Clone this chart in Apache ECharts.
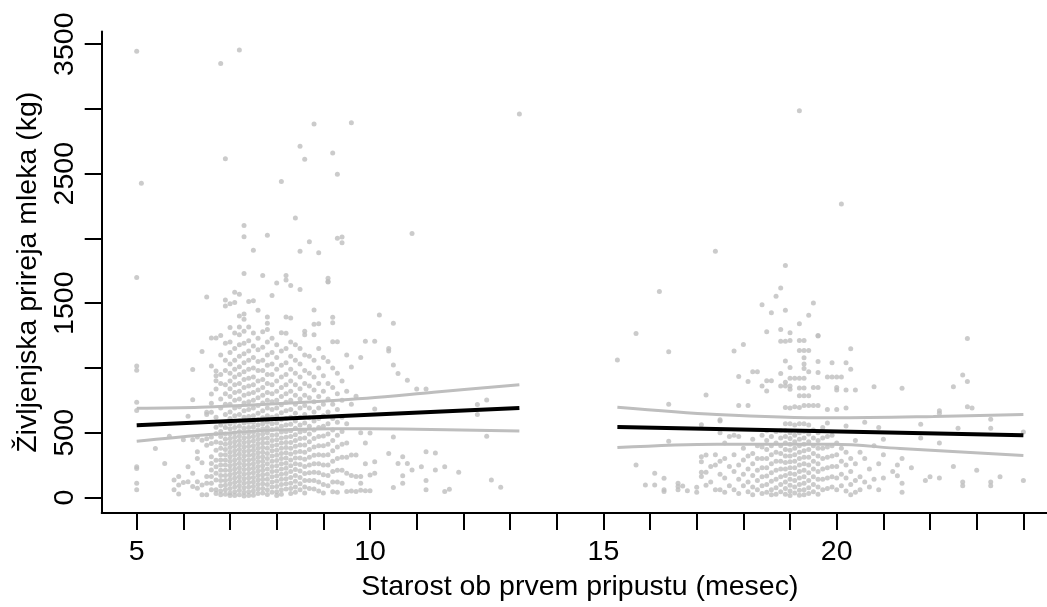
<!DOCTYPE html>
<html>
<head>
<meta charset="utf-8">
<script src="https://cdn.jsdelivr.net/npm/echarts@6/dist/echarts.min.js"></script>
<style>
  html, body { margin: 0; padding: 0; background: #ffffff; }
  #chart { width: 1047px; height: 607px; }
</style>
</head>
<body>
<div id="chart"></div>
<script>
// Age at first insemination (months) vs. lifetime milk yield (kg).
// Each entry: [age in months, [milk yields of animals at that age]]
const groupEarly = [
  [5.0, [3446, 1698, 1016, 982, 735, 671, 237, 224, 110, 59]],
  [5.1, [2427]],
  [5.4, [378]],
  [5.6, [263]],
  [5.7, [472]],
  [5.8, [135, 59]],
  [5.9, [161, 97, 26]],
  [6.0, [446, 115]],
  [6.1, [628, 237, 122]],
  [6.2, [988, 755, 446, 186, 84]],
  [6.3, [467, 352, 301, 122, 71]],
  [6.4, [1128, 442, 268, 97, 20]],
  [6.5, [1547, 658, 640, 454, 403, 161, 110, 20]],
  [6.6, [1232, 1016, 799, 727, 658, 467, 416, 314, 263, 212, 161, 110, 59]],
  [6.7, [1232, 977, 939, 901, 837, 620, 543, 492, 429, 365, 288, 237, 186, 135, 59, 30]],
  [6.8, [3351, 1250, 1100, 950, 880, 760, 690, 560, 510, 470, 420, 380, 330, 290, 250, 210, 170, 130, 90, 50, 20]],
  [6.9, [2616, 1524, 1478, 1190, 1060, 980, 870, 800, 720, 640, 580, 540, 490, 450, 410, 370, 330, 290, 250, 210, 170, 130, 95, 60, 25]],
  [7.0, [1495, 1312, 1200, 1120, 1030, 960, 900, 840, 780, 720, 660, 610, 570, 530, 490, 455, 420, 385, 350, 315, 280, 245, 210, 175, 140, 105, 70, 35, 15]],
  [7.1, [1585, 1506, 1270, 1150, 1060, 990, 930, 870, 810, 750, 690, 630, 580, 540, 500, 465, 430, 395, 360, 325, 290, 255, 220, 185, 150, 115, 80, 45, 15]],
  [7.2, [3456, 1570, 1401, 1317, 1256, 1180, 1090, 1010, 950, 880, 820, 760, 700, 640, 590, 550, 510, 475, 440, 405, 370, 335, 300, 265, 230, 195, 160, 125, 90, 55, 20]],
  [7.3, [2100, 2014, 1730, 1417, 1376, 1284, 1190, 1110, 1040, 970, 910, 850, 790, 730, 670, 620, 575, 535, 495, 460, 425, 390, 355, 320, 285, 250, 215, 180, 145, 110, 75, 40, 12]],
  [7.4, [1514, 1317, 1210, 1130, 1060, 990, 920, 860, 800, 740, 680, 625, 580, 540, 500, 465, 430, 395, 360, 325, 290, 255, 220, 185, 150, 115, 80, 45, 15]],
  [7.5, [1909, 1518, 1269, 1170, 1080, 1000, 930, 870, 810, 750, 690, 630, 580, 545, 505, 470, 435, 400, 365, 330, 295, 260, 225, 190, 155, 120, 85, 50, 18]],
  [7.6, [1445, 1230, 1140, 1050, 980, 900, 830, 770, 710, 650, 600, 560, 520, 485, 450, 415, 380, 345, 310, 275, 240, 205, 170, 135, 100, 65, 30]],
  [7.7, [1713, 1280, 1160, 1060, 980, 910, 850, 790, 730, 670, 615, 570, 530, 490, 455, 420, 385, 350, 315, 280, 245, 210, 175, 140, 105, 70, 35]],
  [7.8, [2024, 1394, 1345, 1296, 1200, 1100, 1020, 950, 880, 810, 750, 690, 630, 580, 540, 500, 460, 420, 380, 340, 300, 260, 220, 180, 140, 100, 60, 22]],
  [7.9, [1560, 1230, 1120, 1030, 950, 870, 800, 740, 680, 620, 570, 525, 480, 440, 400, 360, 320, 280, 240, 200, 160, 120, 80, 40]],
  [8.0, [1656, 1180, 1080, 990, 900, 820, 750, 690, 630, 575, 530, 485, 445, 405, 365, 325, 285, 245, 205, 165, 125, 85, 45, 15]],
  [8.1, [2440, 1271, 1130, 1020, 930, 850, 780, 715, 655, 600, 550, 505, 460, 420, 380, 340, 300, 260, 220, 180, 140, 100, 60, 25]],
  [8.2, [1713, 1679, 1394, 1268, 1150, 1040, 950, 870, 800, 735, 670, 610, 560, 510, 465, 425, 385, 345, 305, 265, 225, 185, 145, 105, 65]],
  [8.3, [1636, 1386, 1200, 1090, 990, 900, 820, 750, 680, 620, 565, 515, 470, 425, 380, 335, 290, 245, 200, 155, 110, 70, 30]],
  [8.4, [2157, 1180, 1060, 960, 870, 790, 720, 650, 590, 535, 485, 440, 395, 350, 305, 260, 215, 170, 125, 80, 40]],
  [8.5, [2711, 1901, 1605, 1150, 1030, 930, 840, 760, 690, 620, 560, 505, 455, 405, 355, 305, 255, 205, 155, 105, 60]],
  [8.6, [2611, 1284, 1256, 1100, 980, 880, 790, 710, 640, 575, 515, 460, 405, 350, 295, 240, 185, 130, 80, 35]],
  [8.7, [1975, 1090, 960, 860, 770, 690, 615, 550, 490, 430, 370, 310, 250, 190, 130, 70]],
  [8.8, [2884, 1447, 1338, 1256, 1060, 930, 830, 740, 660, 590, 520, 455, 390, 325, 260, 195, 130, 65]],
  [8.9, [1889, 1342, 1150, 1000, 880, 780, 690, 610, 540, 470, 400, 330, 260, 190, 120, 50]],
  [9.0, [1080, 940, 820, 720, 630, 550, 475, 400, 325, 250, 175, 100, 35]],
  [9.1, [1692, 1667, 1664, 1050, 880, 760, 660, 570, 490, 410, 330, 250, 170, 90]],
  [9.2, [2659, 1391, 1350, 1202, 1000, 850, 720, 610, 520, 440, 360, 280, 200, 120, 45]],
  [9.3, [2496, 2001, 1202, 960, 800, 680, 580, 480, 390, 300, 210, 120, 40]],
  [9.4, [2011, 1966, 900, 750, 620, 510, 410, 310, 210, 110]],
  [9.5, [1100, 820, 569, 420, 310, 186, 46]],
  [9.6, [2894, 1008, 720, 327, 170, 50]],
  [9.7, [781, 327, 161, 46]],
  [9.8, [1080, 500, 161, 110, 55]],
  [9.9, [1207, 420, 260, 51]],
  [10.0, [497, 173, 51]],
  [10.1, [1207, 684, 275, 186]],
  [10.2, [1409]],
  [10.4, [1150, 1130, 339]],
  [10.5, [1345, 1023, 467, 76]],
  [10.6, [957, 263]],
  [10.7, [314, 168, 110]],
  [10.8, [906, 263]],
  [10.9, [2039, 212]],
  [11.0, [837]],
  [11.1, [237]],
  [11.2, [837, 352, 130, 59]],
  [11.4, [344, 212]],
  [11.6, [237, 46]],
  [11.7, [64]],
  [11.9, [194]],
  [12.3, [717, 640]],
  [12.5, [753, 472]],
  [12.6, [135]],
  [12.8, [79]],
  [13.2, [2961]]
];

const groupLate = [
  [15.3, [1062]],
  [15.7, [1266, 250]],
  [15.9, [97]],
  [16.1, [186, 97]],
  [16.2, [1590]],
  [16.3, [148, 59, 46]],
  [16.4, [1125, 720, 434]],
  [16.6, [110, 84, 59]],
  [16.7, [89]],
  [16.8, [51]],
  [17.0, [79, 40]],
  [17.1, [561, 314, 275, 194, 161]],
  [17.2, [791, 327, 194, 94]],
  [17.3, [240, 120]],
  [17.4, [1901, 330, 250, 60]],
  [17.5, [600, 590, 500, 280, 180, 60]],
  [17.6, [420, 300, 150, 40]],
  [17.7, [470, 240, 90]],
  [17.8, [1131, 480, 330, 200, 60]],
  [17.9, [934, 710, 470, 250, 140, 30]],
  [18.0, [1182, 380, 290, 180, 90]],
  [18.1, [896, 710, 320, 220, 120, 45]],
  [18.2, [970, 450, 340, 260, 170, 80, 20]],
  [18.3, [970, 400, 300, 210, 130, 60]],
  [18.4, [1488, 860, 480, 390, 300, 230, 160, 90, 30]],
  [18.5, [1279, 902, 822, 515, 440, 370, 300, 230, 165, 100, 40]],
  [18.6, [1427, 902, 470, 400, 330, 260, 190, 125, 60, 20]],
  [18.7, [1554, 510, 420, 350, 280, 210, 140, 75, 25]],
  [18.8, [1618, 1296, 1207, 958, 860, 515, 460, 400, 340, 280, 220, 160, 100, 45]],
  [18.9, [1792, 1445, 1207, 1054, 890, 860, 695, 570, 515, 470, 420, 370, 320, 270, 220, 170, 120, 70, 25]],
  [19.0, [1271, 1212, 1003, 920, 860, 835, 690, 570, 500, 455, 410, 365, 320, 275, 230, 185, 140, 95, 50, 15]],
  [19.1, [920, 700, 560, 480, 430, 380, 330, 280, 230, 180, 130, 80, 35]],
  [19.2, [2986, 1342, 1212, 1135, 920, 845, 785, 695, 570, 500, 450, 400, 350, 300, 250, 200, 150, 100, 55, 18]],
  [19.3, [1212, 1135, 1079, 1030, 995, 920, 845, 785, 710, 570, 510, 460, 410, 360, 310, 260, 210, 160, 110, 60, 20]],
  [19.4, [1407, 1135, 970, 785, 710, 560, 490, 430, 370, 310, 250, 190, 130, 75, 30]],
  [19.5, [1501, 850, 710, 520, 460, 400, 340, 280, 220, 160, 100, 45]],
  [19.6, [1250, 1246, 1050, 965, 850, 710, 500, 440, 380, 320, 260, 200, 140, 80, 25]],
  [19.7, [540, 460, 380, 300, 220, 140, 60]],
  [19.8, [930, 680, 575, 470, 390, 310, 230, 150, 70]],
  [19.9, [1040, 930, 480, 400, 320, 240, 160, 80]],
  [20.0, [930, 850, 830, 680, 420, 330, 240, 150, 60]],
  [20.1, [2266, 930, 380, 280, 180, 90]],
  [20.2, [1040, 830, 690, 551, 350, 250, 150, 50]],
  [20.3, [1149, 990, 300, 200, 100, 20]],
  [20.4, [830, 440, 260, 130, 40]],
  [20.5, [350, 160, 60]],
  [20.6, [580, 300, 120]],
  [20.7, [220, 80]],
  [20.8, [855, 400, 140]],
  [20.9, [540, 260, 60]],
  [21.0, [450, 330, 150]],
  [21.2, [200]],
  [21.3, [250, 168]],
  [21.4, [843, 300, 110, 40]],
  [21.6, [230]],
  [21.8, [565, 460]],
  [21.9, [130]],
  [22.0, [160]],
  [22.2, [670, 650, 420, 150]],
  [22.5, [855, 240]],
  [22.6, [534]],
  [22.7, [945, 120, 90]],
  [22.8, [1227, 895, 700]],
  [22.9, [690]],
  [23.0, [210]],
  [23.3, [603, 534, 120, 90]],
  [23.5, [160]],
  [24.0, [505, 130]]
];

// Fitted regression lines and their confidence limits
const fitEarly = [[5.0, 557], [13.2, 690]];
const upperEarly = [[5.0, 689], [6.36, 697], [7.79, 720], [9.93, 766], [11.36, 812], [13.2, 870]];
const lowerEarly = [[5.0, 434], [6.36, 480], [7.79, 518], [9.21, 531], [10.64, 528], [13.2, 513]];
const fitLate = [[15.3, 544], [24.0, 480]];
const upperLate = [[15.3, 697], [17.43, 641], [19.93, 615], [22.07, 625], [24.0, 641]];
const lowerLate = [[15.3, 385], [17.43, 411], [19.93, 411], [21.36, 378], [24.0, 324]];

// Axis ticks and labels
const xTicks = [5, 6, 7, 8, 9, 10, 11, 12, 13, 14, 15, 16, 17, 18, 19, 20, 21, 22, 23, 24];
const xLabels = [5, 10, 15, 20];
const yTicks = [0, 500, 1000, 1500, 2000, 2500, 3000, 3500];
const yLabels = [0, 500, 1500, 2500, 3500];

const toPoints = groups => groups.flatMap(([x, ys]) => ys.map(y => [x, y]));

const FONT = "'Liberation Sans', Arial, Helvetica, sans-serif";
const GREY = '#bebebe';

const chart = echarts.init(document.getElementById('chart'), null, { renderer: 'canvas' });

const scatterStyle = {
  type: 'scatter',
  symbol: 'circle',
  symbolSize: 5,
  itemStyle: { color: GREY },
  silent: true,
  z: 2
};
const bandStyle = {
  type: 'line',
  showSymbol: false,
  smooth: 0.35,
  lineStyle: { color: GREY, width: 3 },
  silent: true,
  z: 3
};
const fitStyle = {
  type: 'line',
  showSymbol: false,
  lineStyle: { color: '#000000', width: 4 },
  silent: true,
  z: 4
};

chart.setOption({
  animation: false,
  backgroundColor: '#ffffff',
  grid: { left: 101.7, top: 31.5, right: 0, bottom: 90.3, containLabel: false },
  xAxis: {
    type: 'value',
    min: 4.25,
    max: 24.506,
    name: 'Starost ob prvem pripustu (mesec)',
    nameLocation: 'middle',
    nameGap: 60,
    nameTextStyle: { fontFamily: FONT, fontSize: 28.5, color: '#000', padding: [0, 0, 0, 11] },
    axisLine: { show: true, onZero: false, lineStyle: { color: '#000', width: 2 } },
    axisTick: { show: true, inside: false, length: 17, customValues: xTicks, lineStyle: { color: '#000', width: 2 } },
    axisLabel: { customValues: xLabels, margin: 25, fontFamily: FONT, fontSize: 28.5, color: '#000', formatter: v => String(v) },
    splitLine: { show: false }
  },
  yAxis: {
    type: 'value',
    min: -120,
    max: 3598,
    name: 'Življenjska prireja mleka (kg)',
    nameLocation: 'middle',
    nameGap: 57,
    nameTextStyle: { fontFamily: FONT, fontSize: 28.5, color: '#000' },
    axisLine: { show: true, onZero: false, lineStyle: { color: '#000', width: 2 } },
    axisTick: { show: true, inside: false, length: 17, customValues: yTicks, lineStyle: { color: '#000', width: 2 } },
    axisLabel: { customValues: yLabels, rotate: 90, margin: 22, fontFamily: FONT, fontSize: 28.5, color: '#000', formatter: v => String(v) },
    splitLine: { show: false }
  },
  series: [
    Object.assign({ name: 'early', data: toPoints(groupEarly) }, scatterStyle),
    Object.assign({ name: 'late', data: toPoints(groupLate) }, scatterStyle),
    Object.assign({ name: 'upperEarly', data: upperEarly }, bandStyle),
    Object.assign({ name: 'lowerEarly', data: lowerEarly }, bandStyle),
    Object.assign({ name: 'upperLate', data: upperLate }, bandStyle),
    Object.assign({ name: 'lowerLate', data: lowerLate }, bandStyle),
    Object.assign({ name: 'fitEarly', data: fitEarly }, fitStyle),
    Object.assign({ name: 'fitLate', data: fitLate }, fitStyle)
  ]
});
</script>
</body>
</html>
